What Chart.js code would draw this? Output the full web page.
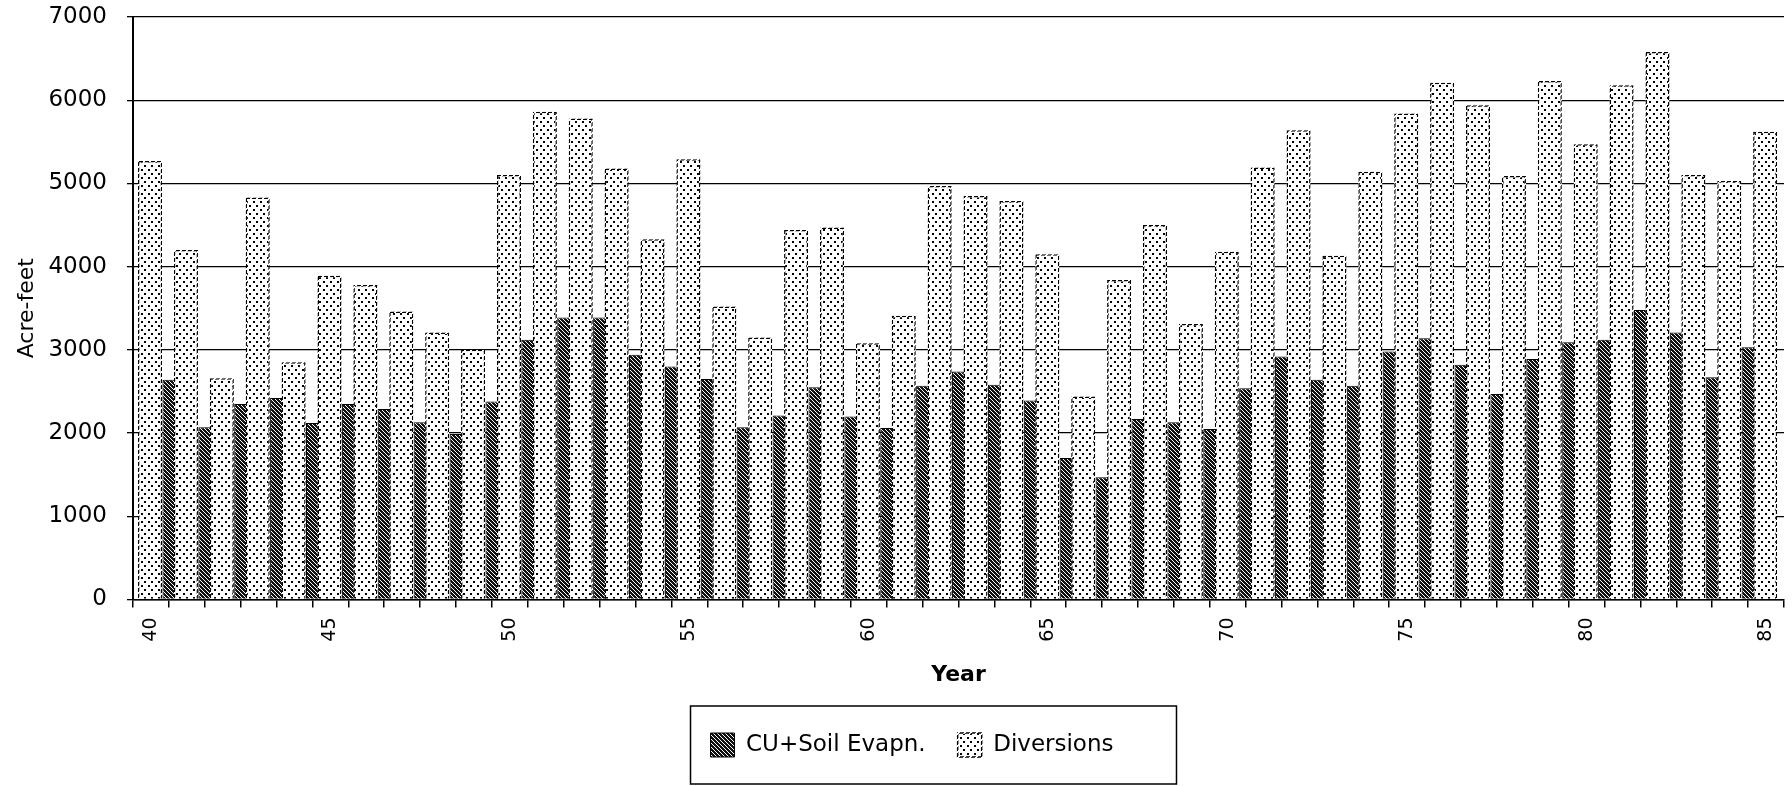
<!DOCTYPE html>
<html>
<head>
<meta charset="utf-8">
<title>CU + Soil Evaporation and Diversions</title>
<style>
  html, body { margin: 0; padding: 0; background: #fff; }
  #wrap { width: 1792px; height: 786px; }
</style>
<script src="https://cdn.jsdelivr.net/npm/chart.js@4.4.0/dist/chart.umd.min.js"></script>
</head>
<body>
<div id="wrap"><canvas id="waterChart"></canvas></div>
<script>
// ======================
// Values (acre-feet)
// ======================
const years = ['40', '41', '42', '43', '44', '45', '46', '47', '48', '49',
               '50', '51', '52', '53', '54', '55', '56', '57', '58', '59',
               '60', '61', '62', '63', '64', '65', '66', '67', '68', '69',
               '70', '71', '72', '73', '74', '75', '76', '77', '78', '79',
               '80', '81', '82', '83', '84', '85'];

const diversions = [5270, 4200, 2660, 4830, 2850, 3890, 3780, 3460, 3210, 3000,
                    5100, 5860, 5780, 5180, 4330, 5290, 3520, 3150, 4440, 4470,
                    3080, 3410, 4970, 4850, 4790, 4150, 2440, 3840, 4500, 3310,
                    4180, 5190, 5640, 4130, 5140, 5840, 6210, 5940, 5090, 6230,
                    5470, 6180, 6580, 5100, 5030, 5620];

// last bar falls off the right edge in the original
const cuSoilEvap = [2640, 2070, 2350, 2420, 2120, 2350, 2290, 2130, 1990, 2380,
                    3120, 3390, 3390, 2940, 2800, 2650, 2070, 2210, 2550, 2200,
                    2060, 2570, 2740, 2580, 2390, 1700, 1470, 2170, 2130, 2050,
                    2540, 2920, 2640, 2570, 2980, 3140, 2820, 2470, 2890, 3090,
                    3120, 3480, 3210, 2670, 3030, null];

const yTickValues = [0, 1000, 2000, 3000, 4000, 5000, 6000, 7000];
const labelledYears = ['40', '45', '50', '55', '60', '65', '70', '75', '80', '85'];

// Fill patterns like the old printer shading
function dotPattern() {
  const c = document.createElement('canvas');
  c.width = 7; c.height = 8;
  const g = c.getContext('2d');
  g.fillStyle = '#fff';
  g.fillRect(0, 0, 7, 8);
  g.fillStyle = '#000';
  g.fillRect(1, 1, 2, 2);
  g.fillRect(4, 5, 2, 2);
  return g.createPattern(c, 'repeat');
}

function hatchPattern() {
  const c = document.createElement('canvas');
  c.width = 4; c.height = 4;
  const g = c.getContext('2d');
  g.fillStyle = '#111';
  g.fillRect(0, 0, 4, 4);
  g.strokeStyle = '#fff';
  g.lineWidth = 1;
  g.beginPath();
  g.moveTo(0, 0); g.lineTo(4, 4);
  g.moveTo(-1, 3); g.lineTo(1, 5);
  g.moveTo(3, -1); g.lineTo(5, 1);
  g.stroke();
  return g.createPattern(c, 'repeat');
}

// dashed look for the light bar outlines (bar borders are filled, not stroked)
function dashPattern() {
  const c = document.createElement('canvas');
  c.width = 6; c.height = 6;
  const g = c.getContext('2d');
  g.fillStyle = '#fff';
  g.fillRect(0, 0, 6, 6);
  g.fillStyle = '#000';
  for (let x = 0; x < 6; x++) {
    for (let y = 0; y < 6; y++) {
      if ((x + y) % 6 < 4) g.fillRect(x, y, 1, 1);
    }
  }
  return g.createPattern(c, 'repeat');
}

// box drawn round the legend, as in the original
const legendFrame = {
  id: 'legendFrame',
  afterDraw(chart) {
    const boxes = chart.legend && chart.legend.legendHitBoxes;
    if (!boxes || !boxes.length) return;
    const left = Math.min(...boxes.map(b => b.left)) - 20;
    const right = Math.max(...boxes.map(b => b.left + b.width)) + 63;
    const top = Math.min(...boxes.map(b => b.top)) - 27;
    const bottom = Math.max(...boxes.map(b => b.top + b.height)) + 27;
    const ctx = chart.ctx;
    ctx.save();
    ctx.strokeStyle = '#000';
    ctx.lineWidth = 1.5;
    ctx.strokeRect(left, top, right - left, bottom - top);
    ctx.restore();
  }
};

Chart.defaults.font.family = "'DejaVu Sans', sans-serif";
Chart.defaults.color = '#000';

const ctx = document.getElementById('waterChart').getContext('2d');

// left padding pushes the legend a little right of the page centre;
// the y axis box is narrowed by the same amount so the plot stays put
const padLeft = 40;

const waterChart = new Chart(ctx, {
  type: 'bar',
  data: {
    labels: years,
    datasets: [
      {
        label: 'Diversions',
        data: diversions,
        backgroundColor: dotPattern(),
        borderColor: dashPattern(),
        borderWidth: 1.5,
        // light bar sits on the year, dark bar hangs off its right side
        categoryPercentage: 0.1,
        barPercentage: 13.4
      },
      {
        label: 'CU+Soil Evapn.',
        data: cuSoilEvap,
        backgroundColor: hatchPattern(),
        borderColor: '#000',
        borderWidth: 1,
        categoryPercentage: 2.0,
        barPercentage: 0.36
      }
    ]
  },
  options: {
    responsive: true,
    maintainAspectRatio: false,
    animation: false,
    layout: {
      padding: { left: padLeft, right: 8, top: 17, bottom: 19 }
    },
    plugins: {
      legend: {
        position: 'bottom',
        reverse: true,
        labels: {
          color: '#000',
          font: { size: 23 },
          boxWidth: 24,
          boxHeight: 24,
          padding: 32
        }
      },
      tooltip: { enabled: false }
    },
    scales: {
      x: {
        afterFit: scale => {
          scale.height = 101.5;
          scale.paddingLeft = 0;
          scale.paddingRight = 0;
        },
        grid: {
          offset: true,
          drawOnChartArea: false,
          drawTicks: true,
          tickLength: 8,
          color: '#000',
          lineWidth: 1.5
        },
        border: { color: '#000', width: 1.5 },
        ticks: {
          autoSkip: false,
          minRotation: 90,
          maxRotation: 90,
          padding: 10,
          font: { size: 19 },
          callback: function(value) {
            const y = this.getLabelForValue(value);
            return labelledYears.includes(y) ? y : '';
          }
        },
        title: {
          display: true,
          text: 'Year',
          font: { size: 22, weight: 'bold' },
          padding: { top: 0, bottom: 13 }
        }
      },
      y: {
        min: 0,
        max: 7000,
        afterBuildTicks: scale => {
          scale.ticks = yTickValues.map(v => ({ value: v }));
        },
        afterFit: scale => {
          scale.width = 133 - padLeft;
          scale.paddingTop = 0;
          scale.paddingBottom = 0;
        },
        grid: {
          color: '#000',
          lineWidth: 1.3,
          tickLength: 6
        },
        border: { color: '#000', width: 2 },
        ticks: {
          padding: 20,
          font: { size: 23 },
          callback: value => value + ''
        },
        title: {
          display: true,
          text: 'Acre-feet',
          font: { size: 22 },
          padding: { top: 14 - padLeft, bottom: 0 }
        }
      }
    }
  },
  plugins: [legendFrame]
});
</script>
</body>
</html>
